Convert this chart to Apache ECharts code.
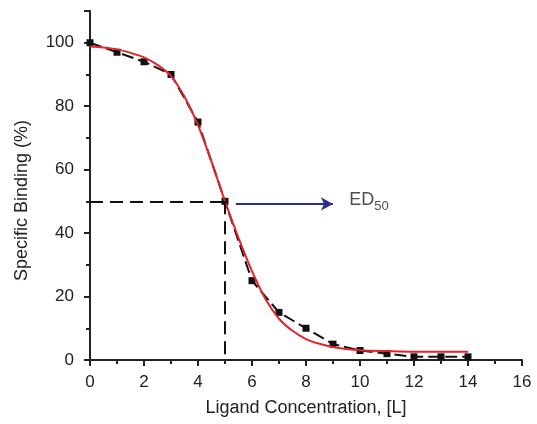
<!DOCTYPE html>
<html><head><meta charset="utf-8">
<script src="https://cdn.jsdelivr.net/npm/echarts@6/dist/echarts.min.js"></script>
<style>html,body{margin:0;padding:0;background:#fff}#c{width:537px;height:424px}</style>
</head><body><div id="c"></div>
<script>
var concentration = [0,1,2,3,4,5,6,7,8,9,10,11,12,13,14];
var binding = [100,97,94,90,75,50,25,15,10,5,3,2,1,1,1];
var fitX = [0,0.5,1,1.5,2,2.5,3,3.5,4,4.5,5,5.5,6,6.5,7,7.5,8,8.5,9,9.5,10,11,12,13,14];
var fitY = [98.8,98.5,97.9,96.8,95.4,93,89.5,83,74,62.5,50,38.5,28,19.2,13,9.2,6.6,5.1,4.1,3.5,3.1,2.8,2.6,2.6,2.6];
var ed50X = 5, ed50Y = 50;
var arrowY = 49.2, arrowFrom = 5.4, arrowTo = 9.0, labelX = 9.6;
var yTicks = [0,20,40,60,80,100];

var font = 'Liberation Sans, Arial, sans-serif';
var ink = '#222';
var chart = echarts.init(document.getElementById('c'));
chart.setOption({
  animation:false,
  backgroundColor:'#fff',
  grid:{left:90,right:15,top:11,bottom:64},
  xAxis:{type:'value',min:0,max:16,interval:2,
    name:'Ligand Concentration, [L]',nameLocation:'middle',nameGap:39,
    nameTextStyle:{fontFamily:font,fontSize:18,color:ink},
    axisLine:{lineStyle:{color:ink,width:2}},
    axisTick:{show:true,inside:false,length:6,lineStyle:{width:2,color:ink}},
    minorTick:{show:true,splitNumber:2,length:4,lineStyle:{width:2,color:ink}},
    axisLabel:{fontFamily:font,fontSize:17,color:ink,margin:14},
    splitLine:{show:false}},
  yAxis:{type:'value',min:0,max:110,interval:20,
    name:'Specific Binding (%)',nameLocation:'middle',nameGap:59,
    nameTextStyle:{fontFamily:font,fontSize:18,color:ink,padding:[0,30,0,0]},
    axisLine:{show:true,lineStyle:{color:ink,width:2}},
    axisTick:{show:true,inside:false,length:6,lineStyle:{width:2,color:ink}},
    minorTick:{show:true,splitNumber:2,length:4,lineStyle:{width:2,color:ink}},
    axisLabel:{fontFamily:font,fontSize:17,color:ink,margin:16,
      formatter:function(v){return yTicks.indexOf(v)>=0?String(v):'';}},
    splitLine:{show:false}},
  series:[
    {type:'line',data:concentration.map(function(x,i){return [x,binding[i]];}),
      symbol:'rect',symbolSize:7,itemStyle:{color:'#111'},
      lineStyle:{color:'#111',width:2,type:[12,5]},z:3,
      markLine:{silent:true,symbol:['none','none'],label:{show:false},
        lineStyle:{color:'#111',width:2,type:[13,7]},
        data:[[{coord:[0,ed50Y]},{coord:[ed50X,ed50Y]}],[{coord:[ed50X,ed50Y]},{coord:[ed50X,0]}]]}},
    {type:'line',data:fitX.map(function(x,i){return [x,fitY[i]];}),
      smooth:0.3,symbol:'none',lineStyle:{color:'#e3222b',width:2},z:4,
      markLine:{silent:true,symbol:['none','arrow'],symbolSize:[10,12],label:{show:false},
        lineStyle:{color:'#2b3090',width:2,type:'solid'},
        data:[[{coord:[arrowFrom,arrowY]},{coord:[arrowTo,arrowY]}]]}},
    {type:'scatter',data:[[labelX,ed50Y]],symbolSize:0,silent:true,
      label:{show:true,position:'right',distance:0,offset:[0,-1],formatter:'{a|ED}{b|50}',
        rich:{a:{fontFamily:font,fontSize:18,color:ink},
              b:{fontFamily:font,fontSize:13,color:ink,verticalAlign:'bottom',padding:[12,0,0,0]}}}}
  ]
});
</script></body></html>
